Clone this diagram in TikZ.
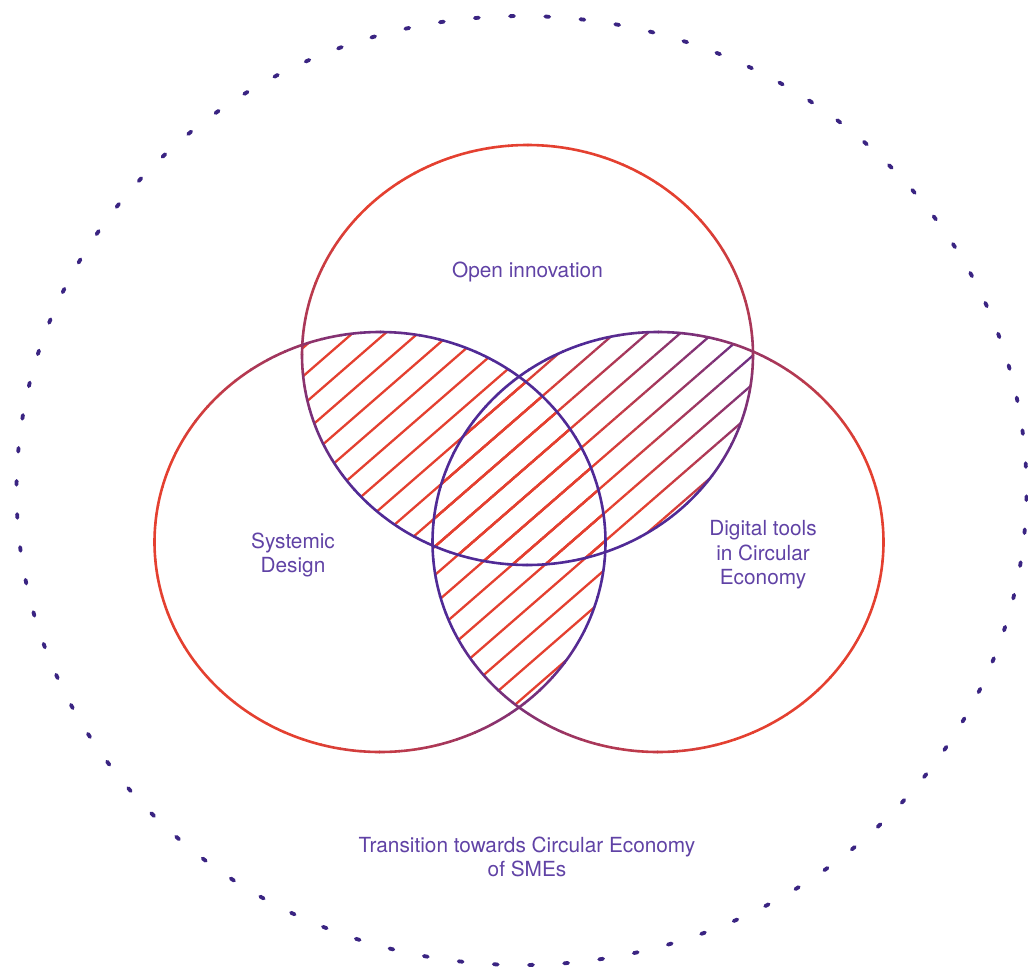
\documentclass[tikz,border=0pt]{standalone}
\usepackage{fontspec}
\setmainfont{TeX Gyre Heros}
\definecolor{cred}{RGB}{228,64,48}
\definecolor{cpur}{RGB}{80,42,150}
\definecolor{ctxt}{RGB}{96,66,165}
\definecolor{cdot}{RGB}{58,36,130}
\begin{document}
\begin{tikzpicture}[x=1bp,y=-1bp,
  lbl/.style={text=ctxt, align=center, inner sep=0pt, font=\fontsize{20.8bp}{24.5bp}\selectfont},
  ring/.style={line width=2.6bp},
  hatchline/.style={line width=2.3bp},
  dotmark/.style={cdot, line width=3.8bp, line cap=round}]
\useasboundingbox (0,0) rectangle (1028,967);

% outer dotted boundary
\foreach \k in {0,...,89}{
  \pgfmathsetmacro\a{268.7+4*\k}
  \draw[dotmark] (521.5,490.5) ++(\a:505 and 474.5) arc[start angle=\a, delta angle=0.45, x radius=505, y radius=474.5];
}

% hatching: top & left (red)
\begin{scope}
  \clip (527.5,355) ellipse [x radius=225.5, y radius=210];
  \clip (380,542) ellipse [x radius=225.5, y radius=210];
  \foreach \k in {0,...,22}{
    \pgfmathsetmacro\c{869.8-21.5*\k}
    \draw[hatchline, cred] ({\c*0.656-250*0.7547},{\c*0.7547+250*0.656}) -- ({\c*0.656+370*0.7547},{\c*0.7547-370*0.656});
  }
\end{scope}
% hatching: left & right (red)
\begin{scope}
  \clip (380,542) ellipse [x radius=225.5, y radius=210];
  \clip (658,542) ellipse [x radius=225.5, y radius=210];
  \foreach \k in {0,...,22}{
    \pgfmathsetmacro\c{869.8-21.5*\k}
    \draw[hatchline, cred] ({\c*0.656-250*0.7547},{\c*0.7547+250*0.656}) -- ({\c*0.656+370*0.7547},{\c*0.7547-370*0.656});
  }
\end{scope}
% hatching: top & right (red to purple)
\begin{scope}
  \clip (527.5,355) ellipse [x radius=225.5, y radius=210];
  \clip (658,542) ellipse [x radius=225.5, y radius=210];
  \foreach \k in {0,...,14}{
    \pgfmathsetmacro\c{869.8-21.5*\k}
    \foreach \s in {-60,-50,...,360}{
      \pgfmathsetmacro\xa{\c*0.656+\s*0.7547}
      \pgfmathsetmacro\ya{\c*0.7547-\s*0.656}
      \pgfmathsetmacro\xb{\c*0.656+(\s+10)*0.7547}
      \pgfmathsetmacro\yb{\c*0.7547-(\s+10)*0.656}
      \pgfmathsetmacro\p{max(0,min(100,100-0.32*(((\xa+\xb)/2-560)+(420-(\ya+\yb)/2))))}
      \draw[hatchline, cred!\p!cpur] (\xa,\ya) -- (\xb,\yb);
    }
  }
\end{scope}

% the three rings with gradient strokes
\foreach \cx/\cy/\d in {527.5/355/-90, 380/542/156.4, 658/542/24.5}{
  \foreach \a in {0,5,...,355}{
    \pgfmathsetmacro\p{max(0,min(100,50+75*cos(\a+2.5-\d)))}
    \draw[ring, cred!\p!cpur] (\cx,\cy) ++(\a:225.5 and 210) arc[start angle=\a, delta angle=5.2, x radius=225.5, y radius=210];
  }
}

\node[lbl] (open) at (527.5,272) {Open innovation};
\node[lbl] (sys) at (293,555) {Systemic\\Design};
\node[lbl] (dig) at (763,555) {Digital tools\\in Circular\\Economy};
\node[lbl] (trans) at (527,857) {Transition towards Circular Economy\\of SMEs};
\end{tikzpicture}
\end{document}
